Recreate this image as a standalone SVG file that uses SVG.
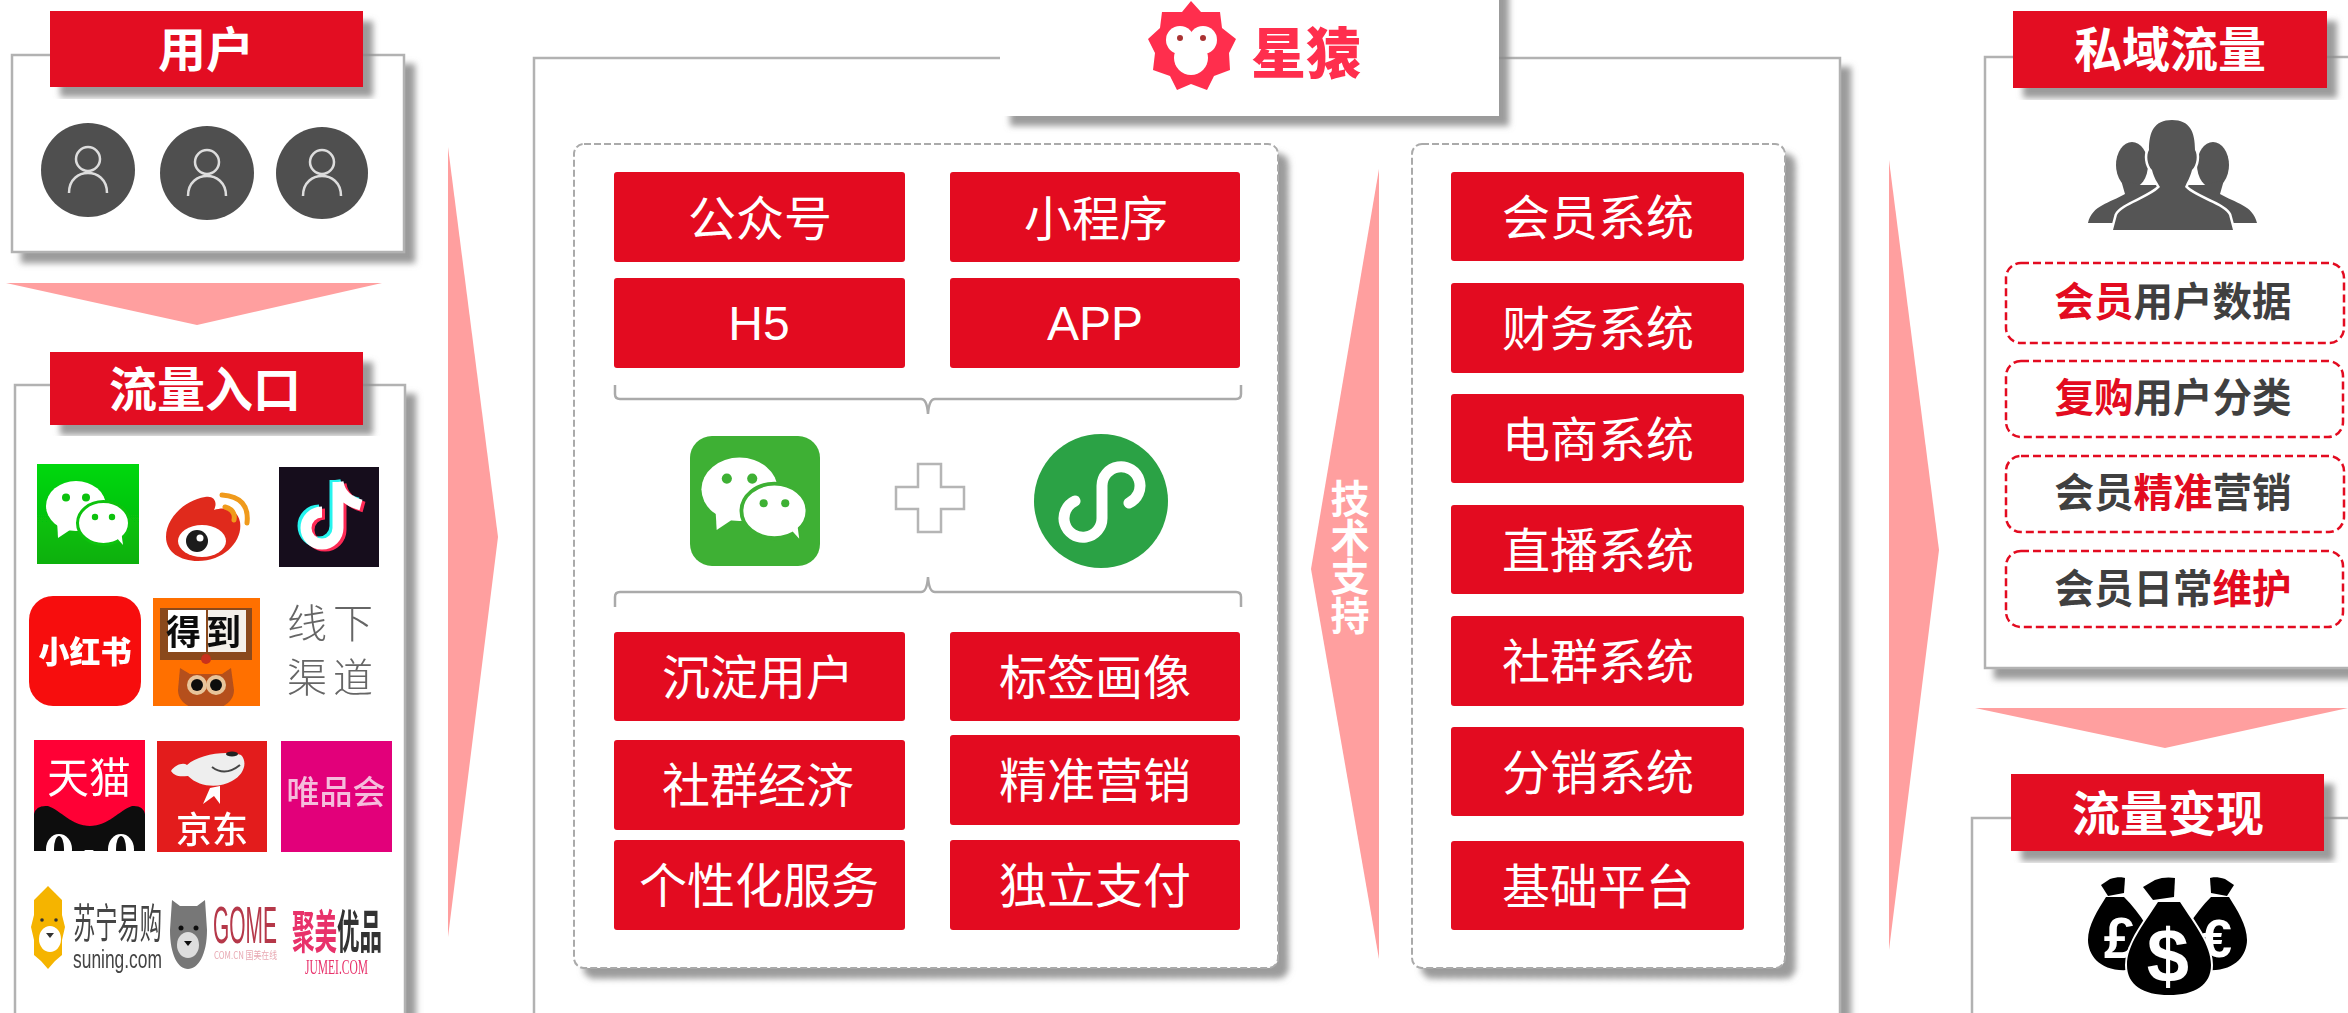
<svg xmlns="http://www.w3.org/2000/svg" width="2348" height="1013" viewBox="0 0 2348 1013">
<style>
text{font-family:"Noto Sans CJK SC","Liberation Sans",sans-serif}
.frame{fill:#fff;stroke:#b2b2b2;stroke-width:2.5;filter:url(#sh)}
.head{fill:#e30b20;filter:url(#sh)}
.headt{fill:#fff;font-size:48px;font-weight:700;text-anchor:middle}
.panel{fill:#fff;stroke:#aaa;stroke-width:2;stroke-dasharray:7 3;filter:url(#sh)}
.btn{fill:#e30b20}
.bt{fill:#fff;font-size:48px;text-anchor:middle}
.lat{font-family:"Liberation Sans",sans-serif;font-size:48px}
.arrow{fill:#ff9f9f}
.brace{fill:none;stroke:#aaa;stroke-width:2.5}
.rd{fill:#fff;stroke:#e30b20;stroke-width:2.5;stroke-dasharray:8 4}
.rt{font-size:39.500px;font-weight:700;fill:#404040;text-anchor:middle}
.rt tspan{fill:#e30b20}
.soft{filter:url(#soft)}
</style>
<defs>
<filter id="sh" x="-10%" y="-10%" width="125%" height="125%">
<feDropShadow dx="10" dy="10" stdDeviation="3" flood-color="#8a8a8a" flood-opacity=".85"/>
</filter>
<filter id="soft" x="-5%" y="-5%" width="110%" height="110%"><feGaussianBlur stdDeviation=".6"/></filter>
<linearGradient id="wg" x1="0" y1="0" x2="0" y2="1"><stop offset="0" stop-color="#00d80a"/><stop offset="1" stop-color="#0cb00f"/></linearGradient>
<clipPath id="tm"><rect x="34" y="740" width="111" height="111"/></clipPath>
<clipPath id="dd"><rect x="153" y="598" width="107" height="108"/></clipPath>
<g id="bub">
<ellipse cx="39" cy="42" rx="30" ry="25" fill="#fff"/>
<path d="M20 56 L21 74 L36 64Z" fill="#fff"/>
<circle cx="29" cy="33.500" r="4" fill="currentColor"/><circle cx="49" cy="33.500" r="4" fill="currentColor"/>
<ellipse cx="66.500" cy="59" rx="26" ry="21.500" fill="#fff" stroke="currentColor" stroke-width="3"/>
<path d="M78 72 L86 81 L84 66Z" fill="#fff"/>
<circle cx="58" cy="53" r="3.200" fill="currentColor"/><circle cx="75" cy="53" r="3.200" fill="currentColor"/>
</g>
<g id="person" fill="none" stroke="#ddd" stroke-width="2.500">
<circle cx="0" cy="-11" r="12"/>
<path d="M-19 23 C-19 9 -9 3 0 3 C9 3 19 9 19 23"/>
</g>
<g id="side" fill="#555">
<ellipse cx="2132" cy="165" rx="16" ry="23"/>
<path d="M2121 180 L2125 194 C2110 203 2092 205 2088 223 H2160 V185 H2140Z"/>
</g>
<g id="bag">
<path d="M2106 897 H2124 C2132 905 2140 915 2146 925 L2128 970 C2100 972 2088 955 2088 940 C2088 925 2098 910 2106 897Z"/>
<path d="M2101 885 L2110 879 C2116 877 2122 877 2125 878 L2124 893 L2108 896Z"/>
</g>
</defs>

<g id="box-user">
<rect class="frame" x="12" y="55" width="392" height="197"/>
</g>
<g id="box-traffic">
<rect class="frame" x="15" y="385" width="390" height="700"/>
</g>
<g id="box-platform">
<rect class="frame" x="534" y="58" width="1306" height="1030"/>
</g>
<g id="box-private">
<rect class="frame" x="1985" y="57" width="420" height="611"/>
</g>
<g id="box-monetize">
<rect class="frame" x="1972" y="818" width="430" height="300"/>
</g>

<g id="connectors">
<polygon class="arrow" points="6,283 382,283 197,325"/>
<polygon class="arrow" points="448,147 498,537 448,937"/>
<polygon class="arrow" points="1379,169 1311,569 1379,959"/>
<polygon class="arrow" points="1889,160 1939,550 1889,950"/>
<polygon class="arrow" points="1975,708 2348,708 2165,748"/>
</g>

<g id="node-user">
<rect class="head" x="50" y="11" width="313" height="76"/>
<text class="headt" x="206" y="67">用户</text>
<circle cx="88" cy="170" r="47" fill="#4f4f4f"/><use href="#person" x="88" y="170"/>
<circle cx="207" cy="173" r="47" fill="#4f4f4f"/><use href="#person" x="207" y="173"/>
<circle cx="322" cy="173" r="46" fill="#4f4f4f"/><use href="#person" x="322" y="173"/>
</g>

<g id="node-traffic">
<rect class="head" x="50" y="352" width="313" height="73"/>
<text class="headt" x="205" y="407">流量入口</text>
</g>

<g id="logos" class="soft">
<g id="logo-wechat">
<rect x="37" y="464" width="102" height="100" fill="url(#wg)"/>
<use href="#bub" x="37" y="464" color="#0ac20c"/>
</g>
<g id="logo-weibo">
<path d="M166 537 C166 518 185 500 205 497 C214 495 218 502 214 510 C226 506 238 510 240 522 C243 540 225 561 198 561 C180 561 166 552 166 537Z" fill="#e02b1c"/>
<ellipse cx="202" cy="541" rx="24" ry="16" fill="#fff"/>
<circle cx="197" cy="541" r="11" fill="#1a1a1a"/><circle cx="200" cy="538" r="3.500" fill="#fff"/>
<path d="M222 495 Q250 497 247 523 M225 507 Q236 510 234 520" fill="none" stroke="#f09a1a" stroke-width="5" stroke-linecap="round"/>
</g>
<g id="logo-tiktok">
<rect x="279" y="467" width="100" height="100" fill="#120b1e"/>
<g fill="none" stroke-width="11">
<path transform="translate(-3,-2)" stroke="#25f4ee" d="M338 482 V528 A16 16 0 1 1 322 512 M338 482 C340 496 350 502 361 505"/>
<path transform="translate(3,2)" stroke="#fe2c55" d="M338 482 V528 A16 16 0 1 1 322 512 M338 482 C340 496 350 502 361 505"/>
<path stroke="#fff" d="M338 482 V528 A16 16 0 1 1 322 512 M338 482 C340 496 350 502 361 505"/>
</g>
</g>
<g id="logo-xhs">
<rect x="29" y="596" width="112" height="110" rx="24" fill="#f70d0a"/>
<text x="85" y="663" fill="#fff" font-size="31" font-weight="900" text-anchor="middle">小红书</text>
</g>
<g id="logo-dedao">
<rect x="153" y="598" width="107" height="108" fill="#ff7000"/>
<rect x="160" y="608" width="92" height="52" fill="#8a4a1a"/>
<rect x="168" y="610" width="38" height="42" fill="#fff"/><rect x="208" y="610" width="38" height="42" fill="#f4f0ea"/>
<text x="206" y="645" font-size="35" font-weight="700" fill="#111" text-anchor="middle" letter-spacing="5">得到</text>
<circle cx="206" cy="659" r="5" fill="#c9301a"/>
<g clip-path="url(#dd)">
<path d="M180 668 L190 674 H222 L231 668 L234 690 C234 702 222 710 206 710 C190 710 178 702 178 690Z" fill="#b5501a"/>
<circle cx="197" cy="685" r="10" fill="#e8c49a"/><circle cx="216" cy="685" r="10" fill="#e8c49a"/>
<circle cx="197" cy="685" r="6" fill="#111"/><circle cx="216" cy="685" r="6" fill="#111"/>
</g>
</g>
<g id="logo-offline" fill="#666" font-size="40" font-weight="300">
<text x="287" y="638" letter-spacing="6">线下</text>
<text x="287" y="692" letter-spacing="6">渠道</text>
</g>
<g id="logo-tmall">
<rect x="34" y="740" width="111" height="111" fill="#ff0036"/>
<text x="89" y="793" fill="#fff" font-size="42" text-anchor="middle">天猫</text>
<g clip-path="url(#tm)">
<path d="M34 851 V814 Q36 805 48 806 C60 810 72 826 90 826 C108 826 120 810 132 806 Q143 805 145 814 V851Z" fill="#0c0c0c"/>
<ellipse cx="59" cy="849" rx="13" ry="15" fill="#fff"/><ellipse cx="121" cy="849" rx="13" ry="15" fill="#fff"/>
<ellipse cx="59" cy="849" rx="5" ry="13" fill="#0c0c0c"/><ellipse cx="121" cy="849" rx="5" ry="13" fill="#0c0c0c"/>
<path d="M84 850 H94 L89 854Z" fill="#fff"/>
</g>
</g>
<g id="logo-jd">
<rect x="157" y="741" width="110" height="111" fill="#e31d1a"/>
<path d="M171 771 C175 765 183 762 187 765 C198 755 225 750 241 755 C248 762 244 775 232 781 C220 788 200 788 188 776 C182 776 176 778 171 771Z" fill="#eee"/>
<path d="M212 767 Q225 777 240 765" fill="none" stroke="#444" stroke-width="2"/>
<ellipse cx="232" cy="754" rx="6" ry="2.500" fill="#222"/>
<path d="M203 804 L210 788 L220 786 L220 804 L214 796Z" fill="#fff"/>
<text x="212" y="843" fill="#fff" font-size="36" font-weight="500" text-anchor="middle">京东</text>
</g>
<g id="logo-vip">
<rect x="281" y="741" width="111" height="111" fill="#e2007a"/>
<text x="336" y="804" fill="#f5bcdc" font-size="33" font-weight="500" text-anchor="middle">唯品会</text>
</g>
<g id="logo-suning">
<path d="M48 886 L55 893 L62 900 L62 915 L65 927 L62 940 L62 955 L55 961 L48 969 L41 961 L34 955 L34 940 L31 927 L34 915 L34 900 L41 893Z" fill="#f5b400"/>
<ellipse cx="50" cy="939" rx="11" ry="13" fill="#fff"/>
<circle cx="42" cy="920" r="1.800" fill="#333"/><circle cx="56" cy="920" r="1.800" fill="#333"/>
<path d="M46 933 H54 L50 938Z" fill="#333"/>
<text transform="translate(117.500,938) scale(.97,1.800)" fill="#444" font-size="23" text-anchor="middle">苏宁易购</text>
<text x="73" y="968" fill="#444" font-size="26" textLength="89" lengthAdjust="spacingAndGlyphs" style="font-family:'Liberation Sans',sans-serif">suning.com</text>
</g>
<g id="logo-gome">
<path d="M172 900 L180 906 H197 L205 900 L207 930 C207 955 198 969 188 969 C178 969 170 955 170 930Z" fill="#777"/>
<ellipse cx="188" cy="945" rx="11" ry="13" fill="#ddd"/>
<circle cx="181" cy="928" r="2.500" fill="#111"/><circle cx="196" cy="928" r="2.500" fill="#111"/>
<path d="M184 941 H192 L188 946Z" fill="#111"/>
<text x="213" y="943" fill="#b5384a" font-size="52" textLength="64" lengthAdjust="spacingAndGlyphs" style="font-family:'Liberation Sans',sans-serif">GOME</text>
<text x="214" y="959" fill="#e8a8b2" font-size="10" textLength="63" lengthAdjust="spacingAndGlyphs">COM.CN 国美在线</text>
</g>
<g id="logo-jumei">
<text transform="translate(337,948) scale(.98,2)" font-size="23" font-weight="700" fill="#333" text-anchor="middle"><tspan fill="#e8306a">聚美</tspan>优品</text>
<text x="305" y="974" fill="#e8306a" font-size="22" textLength="63" lengthAdjust="spacingAndGlyphs" style="font-family:'Liberation Serif',serif">JUMEI.COM</text>
</g>
</g>

<g id="node-brand">
<rect x="1000" y="-20" width="499" height="136" fill="#fff" filter="url(#sh)"/>
<g class="soft">
<polygon points="1191,1 1201,12 1220,12 1222,28 1236,39 1229,53 1230,70 1214,76 1207,90 1191,84 1177,90 1170,76 1153,70 1155,53 1148,39 1160,28 1162,12 1182,12" fill="#ff2e4d"/>
<circle cx="1180" cy="40" r="14" fill="#fff"/><circle cx="1203" cy="40" r="14" fill="#fff"/>
<ellipse cx="1191" cy="58" rx="17" ry="17" fill="#fff"/>
<circle cx="1180" cy="38" r="3" fill="#a33"/><circle cx="1203" cy="38" r="3" fill="#a33"/>
<text x="1306" y="73" font-size="55" font-weight="900" fill="#ff2e4d" text-anchor="middle">星猿</text>
</g>
</g>

<g id="panel-left">
<rect class="panel" x="574" y="144" width="704" height="824" rx="10"/>
</g>
<g id="btn-gzh"><rect class="btn" x="614" y="172" width="291" height="90" rx="3"/><text class="bt" x="760" y="236">公众号</text></g>
<g id="btn-xcx"><rect class="btn" x="950" y="172" width="290" height="90" rx="3"/><text class="bt" x="1096" y="236">小程序</text></g>
<g id="btn-h5"><rect class="btn" x="614" y="278" width="291" height="90" rx="3"/><text class="bt lat" x="759" y="340">H5</text></g>
<g id="btn-app"><rect class="btn" x="950" y="278" width="290" height="90" rx="3"/><text class="bt lat" x="1095" y="340">APP</text></g>
<g id="braces">
<path class="brace" d="M615 385 V394 Q615 399 620 399 H921 Q927 399 928 414 Q929 399 935 399 H1236 Q1241 399 1241 394 V385"/>
<path class="brace" d="M615 607 V597 Q615 592 620 592 H921 Q927 592 928 577 Q929 592 935 592 H1236 Q1241 592 1241 597 V607"/>
</g>
<g id="icon-wechat">
<rect x="690" y="436" width="130" height="130" rx="22" fill="#3eb034"/>
<use href="#bub" transform="translate(690,436) scale(1.270)" color="#3eb034"/>
</g>
<g id="icon-plus">
<path d="M918 464 H941 V487 H964 V509 H941 V532 H918 V509 H896 V487 H918Z" fill="#fff" stroke="#b5b5b5" stroke-width="2.500"/>
</g>
<g id="icon-mini">
<circle cx="1101" cy="501" r="67" fill="#2ba245"/>
<path d="M1075 501 A19 19 0 1 0 1102 518 V486 A19 19 0 1 1 1129 503" fill="none" stroke="#fff" stroke-width="11" stroke-linecap="round"/>
</g>
<g id="btn-cd"><rect class="btn" x="614" y="632" width="291" height="89" rx="3"/><text class="bt" x="758" y="695">沉淀用户</text></g>
<g id="btn-bq"><rect class="btn" x="950" y="632" width="290" height="89" rx="3"/><text class="bt" x="1095" y="695">标签画像</text></g>
<g id="btn-sq"><rect class="btn" x="614" y="740" width="291" height="90" rx="3"/><text class="bt" x="758" y="803">社群经济</text></g>
<g id="btn-jz"><rect class="btn" x="950" y="735" width="290" height="90" rx="3"/><text class="bt" x="1095" y="798">精准营销</text></g>
<g id="btn-gx"><rect class="btn" x="614" y="840" width="291" height="90" rx="3"/><text class="bt" x="759" y="903">个性化服务</text></g>
<g id="btn-dl"><rect class="btn" x="950" y="840" width="290" height="90" rx="3"/><text class="bt" x="1095" y="903">独立支付</text></g>

<g id="node-tech">
<text fill="#fff" font-size="39" font-weight="700" text-anchor="middle"><tspan x="1350" y="513">技</tspan><tspan x="1350" y="552">术</tspan><tspan x="1350" y="591">支</tspan><tspan x="1350" y="630">持</tspan></text>
</g>

<g id="panel-right">
<rect class="panel" x="1412" y="144" width="373" height="824" rx="10"/>
</g>
<g id="sys-1"><rect class="btn" x="1451" y="172" width="293" height="89" rx="3"/><text class="bt" x="1598" y="235">会员系统</text></g>
<g id="sys-2"><rect class="btn" x="1451" y="283" width="293" height="90" rx="3"/><text class="bt" x="1598" y="346">财务系统</text></g>
<g id="sys-3"><rect class="btn" x="1451" y="394" width="293" height="89" rx="3"/><text class="bt" x="1598" y="457">电商系统</text></g>
<g id="sys-4"><rect class="btn" x="1451" y="505" width="293" height="89" rx="3"/><text class="bt" x="1598" y="568">直播系统</text></g>
<g id="sys-5"><rect class="btn" x="1451" y="616" width="293" height="90" rx="3"/><text class="bt" x="1598" y="679">社群系统</text></g>
<g id="sys-6"><rect class="btn" x="1451" y="727" width="293" height="89" rx="3"/><text class="bt" x="1598" y="790">分销系统</text></g>
<g id="sys-7"><rect class="btn" x="1451" y="841" width="293" height="89" rx="3"/><text class="bt" x="1598" y="904">基础平台</text></g>

<g id="node-private">
<rect class="head" x="2013" y="11" width="314" height="77"/>
<text class="headt" x="2170" y="67">私域流量</text>
<g id="icon-group">
<use href="#side"/>
<use href="#side" transform="matrix(-1 0 0 1 4345 0)"/>
<path d="M2172 120 C2190 120 2195 132 2195 150 C2198 155 2197 165 2192 170 C2190 178 2187 182 2185 187 C2195 198 2225 205 2229 215 L2233 230 H2113 L2117 215 C2122 205 2150 198 2160 187 C2157 182 2154 178 2152 170 C2147 165 2146 155 2149 150 C2149 132 2154 120 2172 120Z" fill="#555" stroke="#fff" stroke-width="5" paint-order="stroke"/>
</g>
</g>
<g id="item-1"><rect class="rd" x="2006" y="263" width="338" height="80" rx="15"/><text class="rt" x="2173" y="316"><tspan>会员</tspan>用户数据</text></g>
<g id="item-2"><rect class="rd" x="2006" y="361" width="337" height="76" rx="15"/><text class="rt" x="2173" y="412"><tspan>复购</tspan>用户分类</text></g>
<g id="item-3"><rect class="rd" x="2006" y="456" width="338" height="76" rx="15"/><text class="rt" x="2173" y="507">会员<tspan>精准</tspan>营销</text></g>
<g id="item-4"><rect class="rd" x="2006" y="551" width="337" height="76" rx="15"/><text class="rt" x="2173" y="603">会员日常<tspan>维护</tspan></text></g>

<g id="node-monetize">
<rect class="head" x="2011" y="774" width="313" height="77"/>
<text class="headt" x="2168" y="831">流量变现</text>
<g id="icon-money" fill="#000">
<use href="#bag"/>
<use href="#bag" transform="matrix(-1 0 0 1 4335 0)"/>
<text x="2120" y="958" font-size="58" font-weight="700" fill="#fff" text-anchor="middle" style="font-family:'Liberation Sans',sans-serif">£</text>
<text x="2217" y="957" font-size="54" font-weight="700" fill="#fff" text-anchor="middle" style="font-family:'Liberation Sans',sans-serif">€</text>
<path d="M2158 902 H2180 C2195 925 2211 945 2211 965 C2211 985 2195 995 2169 995 C2143 995 2127 985 2127 965 C2127 945 2143 925 2158 902Z" stroke="#fff" stroke-width="4" paint-order="stroke"/>
<path d="M2143 887 L2155 880 C2162 877 2170 877 2175 878 L2174 897 L2153 900Z"/>
<text x="2168" y="982" font-size="76" font-weight="700" fill="#fff" text-anchor="middle" style="font-family:'Liberation Sans',sans-serif">$</text>
</g>
</g>
</svg>
